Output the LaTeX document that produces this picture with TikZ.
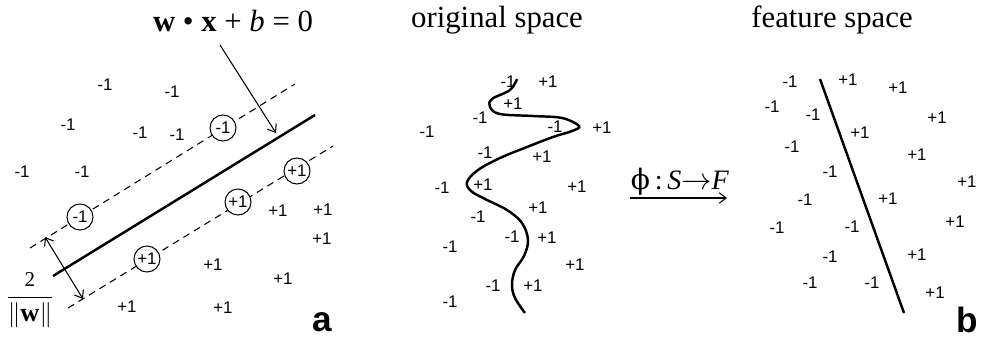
\documentclass[tikz,border=0pt]{standalone}
\usepackage{amsmath}
\usepackage{fontspec}
\setmainfont{Liberation Serif}
\setsansfont{Liberation Sans}
\newfontfamily\phifont{DejaVu Serif}
\usetikzlibrary{arrows.meta}

\begin{document}
\begin{tikzpicture}[x=0.02cm,y=-0.02cm,
    lbl/.style={font=\sffamily\fontsize{9.6}{10}\selectfont,inner sep=0pt},
    sv/.style={lbl,draw,circle,fill=white,minimum size=0.52cm,line width=0.6pt},
    ttl/.style={font=\fontsize{17.5}{20}\selectfont,inner sep=0pt,anchor=base},
    tag/.style={font=\sffamily\bfseries\fontsize{20}{22}\selectfont,inner sep=0pt},
    fine/.style={line width=0.6pt},
    bar/.style={line width=1.4pt},
    margin/.style={line width=0.6pt,dash pattern=on 4pt off 3pt},
    barb/.style={fine,-{Straight Barb[length=4pt,width=6pt]}}]
    \useasboundingbox (0,0) rectangle (1000,341);

    % a: linear separation
    \coordinate (hypA) at (53,276);  \coordinate (hypB) at (315,115);
    \coordinate (upA) at (30,248);   \coordinate (upB) at (295,84);
    \coordinate (loA) at (68,308);   \coordinate (loB) at (333,146);
    \draw[margin] (upA) -- (upB);
    \draw[margin] (loA) -- (loB);
    \draw[bar] (hypA) -- (hypB);
    \foreach \px/\py/\lab [count=\k] in {
      105/85/-1,172/92/-1,68/125/-1,140/133/-1,177/135/-1,22/172/-1,82/172/-1,
      278/211/+1,323/210/+1,322/239/+1,213/265/+1,283/279/+1,127/307/+1,223/308/+1}{%
      \node[lbl] (pa\k) at (\px,\py) {\lab};
    }
    \foreach \px/\py/\lab [count=\k] in {
      223/128/-1,80/217/-1,297/171/+1,238/202/+1,147/259/+1}{%
      \node[sv] (sv\k) at (\px,\py) {\lab};
    }
    \node[ttl] (eq) at (233,32) {\textbf{w} \textbullet\ \textbf{x} + \textit{b} = 0};
    \coordinate (eqfoot) at (220,45);
    \coordinate (hyptip) at (276,133);
    \draw[barb] (eqfoot) -- (hyptip);
    \coordinate (gapU) at (45,237);
    \coordinate (gapL) at (83,299);
    \draw[fine,{Straight Barb[length=4pt,width=6pt]}-{Straight Barb[length=4pt,width=6pt]}] (gapU) -- (gapL);
    \node[inner sep=0pt,font=\fontsize{15}{16}\selectfont] (gap) at (30,300)
      {$\dfrac{\text{\fontsize{12}{12}\selectfont 2}}{\|\mathbf{w}\|}$};
    \node[tag] (tagA) at (322,322) {a};

    % original space
    \node[ttl] (orig) at (497,28) {original space};
    \draw[bar] plot[smooth,tension=0.6] coordinates {
      (517,79) (510,90) (492,99) (490,107) (500,114) (533,116) (562,118)
      (579,126) (572,131) (553,137) (527,147) (500,158) (478,170) (467,182)
      (471,191) (485,199) (507,210) (522,223) (528,240) (524,256) (515,270)
      (512,285) (515,298) (525,313)};
    \foreach \px/\py/\lab [count=\k] in {
      508/82/-1,548/82/+1,513/104/+1,480/118/-1,555/127/-1,602/128/+1,
      427/132/-1,485/153/-1,542/157/+1,442/188/-1,483/185/+1,577/187/+1,
      538/208/+1,478/217/-1,512/237/-1,547/238/+1,450/247/-1,575/265/+1,
      493/286/-1,533/286/+1,450/302/-1}{%
      \node[lbl] (po\k) at (\px,\py) {\lab};
    }

    % mapping
    \coordinate (mapA) at (630,198);
    \coordinate (mapB) at (727,198);
    \draw[barb] (mapA) -- (mapB);
    \node[inner sep=0pt,font=\fontsize{16}{18}\selectfont] (map) at (680,182)
      {{\phifont ϕ}\,:\,\textit{S}$\rightarrow$\textit{F}};

    % b: feature space
    \node[ttl] (feat) at (832,28) {feature space};
    \coordinate (sepA) at (820,79);
    \coordinate (sepB) at (904,313);
    \draw[bar] (sepA) -- (sepB);
    \foreach \px/\py/\lab [count=\k] in {
      790/82/-1,848/80/+1,898/88/+1,772/107/-1,813/115/-1,937/118/+1,
      860/133/+1,792/147/-1,917/155/+1,830/172/-1,967/182/+1,805/200/-1,
      888/199/+1,777/228/-1,852/227/-1,955/222/+1,830/257/-1,917/255/+1,
      810/283/-1,872/283/-1,935/293/+1}{%
      \node[lbl] (pf\k) at (\px,\py) {\lab};
    }
    \node[tag] (tagB) at (967,320) {b};
  \end{tikzpicture}
\end{document}
